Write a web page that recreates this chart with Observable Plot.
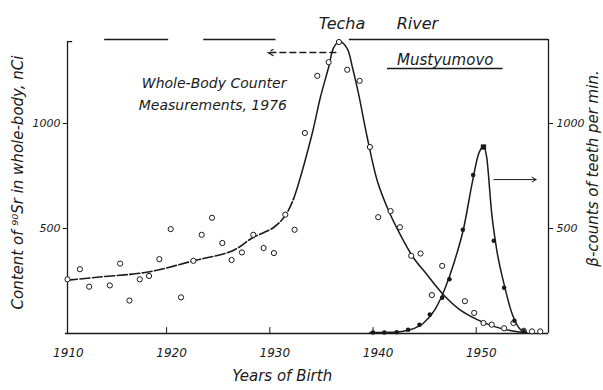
<!DOCTYPE html>
<html><head><meta charset="utf-8">
<script src="https://cdn.jsdelivr.net/npm/d3@7"></script>
<script src="https://cdn.jsdelivr.net/npm/@observablehq/plot@0.6"></script>
<style>body{margin:0;background:#fff}</style>
</head><body><div id="chart"></div>
<script>
// Whole-body counter measurements of 90Sr (open circles), year of birth vs nCi
const srYears = [1910.4,1911.6,1912.5,1914.5,1915.5,1916.4,1917.4,1918.3,1919.3,1920.4,1921.4,1922.6,1923.4,1924.4,1925.4,1926.3,1927.3,1928.4,1929.4,1930.4,1931.5,1932.4,1933.4,1934.6,1935.7,1936.7,1937.5,1938.7,1939.7,1940.5,1941.7,1942.6,1943.7,1944.6,1945.7,1946.7,1948.9,1949.8,1950.7,1951.5,1952.7,1953.6,1954.6,1955.4,1956.2];
const srValues = [258,306,223,229,333,157,258,274,354,497,172,346,470,551,431,350,386,470,407,383,566,494,955,1227,1292,1388,1256,1203,888,554,583,506,370,381,183,322,154,98,50,42,25,50,13,10,10];
// Fitted 90Sr curve
const srCurveYears = [1910.4,1913.5,1918.2,1922.6,1926.4,1928.3,1930.4,1931.55,1932.3,1932.7,1934.1,1934.9,1935.7,1936.2,1936.8,1937.5,1938.0,1938.6,1939.4,1940.4,1941.5,1942.6,1943.9,1945.2,1946.8,1948.4,1950.1,1951.7,1953.3,1954.6];
const srCurveValues = [254,269,293,346,394,455,506,565,641,700,951,1125,1268,1363,1390,1356,1268,1141,943,729,586,474,362,282,186,114,66,34,14,5];
// Beta-counts of teeth per min (solid dots)
const betaYears = [1940.0,1941.1,1942.3,1943.4,1944.5,1945.5,1946.7,1947.4,1948.7,1949.7,1950.7,1951.7,1952.7,1953.7,1954.6];
const betaValues = [5,5,6,18,42,90,170,258,494,755,888,442,218,61,10];
const betaCurveYears = [1939.7,1942.0,1943.6,1944.9,1946.0,1947.0,1947.8,1948.8,1949.6,1950.2,1950.7,1951.0,1951.5,1952.0,1952.7,1953.5,1954.3,1954.9];
const betaCurveValues = [5,6,18,50,114,218,330,506,715,851,891,843,571,394,234,90,18,5];
// Axis ticks
const xTicks = [1910,1920,1930,1940,1950];
const yTicks = [500,1000];
// Broken top frame segments (years)
const topSegStart = [1914.0,1923.6,1937.7];
const topSegEnd = [1920.2,1930.6,1957.0];

const sr = srYears.map((x,i)=>({x, y: srValues[i]}));
const srCurve = srCurveYears.map((x,i)=>({x, y: srCurveValues[i]}));
const srCurveLeft = srCurve.filter(d => d.x <= 1932.3);
const srCurveRight = srCurve.filter(d => d.x >= 1932.3);
const beta = betaYears.map((x,i)=>({x, y: betaValues[i]}));
const betaCurve = betaCurveYears.map((x,i)=>({x, y: betaCurveValues[i]}));
const betaPeak = beta.filter(d => d.y === d3.max(betaValues));
const betaRest = beta.filter(d => d.y !== d3.max(betaValues));
const topSegs = topSegStart.map((x1,i)=>({x1, x2: topSegEnd[i]}));

const ink = "#1a1a1a";
const font = "DejaVu Sans";

const chart = Plot.plot({
  width: 603, height: 390,
  marginLeft: 67, marginRight: 55, marginTop: 39, marginBottom: 57,
  style: {fontFamily: font, fontStyle: "italic", color: ink, background: "#fff"},
  x: {type: "linear", domain: [1910.4, 1957], axis: null},
  y: {type: "linear", domain: [0, 1400], axis: null},
  marks: [
    // frame
    Plot.ruleX([1910.4], {y1: 0, y2: 1390, stroke: ink, strokeWidth: 1.3}),
    Plot.ruleY([1390], {x1: 1910.4, x2: 1910.9, stroke: ink, strokeWidth: 1.3}),
    Plot.ruleX([1957], {y1: 0, y2: 1400, stroke: ink, strokeWidth: 1.3}),
    Plot.ruleY([0], {x1: 1910.2, x2: 1957, stroke: ink, strokeWidth: 1.3}),
    Plot.ruleY(topSegs, {y: 1400, x1: "x1", x2: "x2", stroke: ink, strokeWidth: 1.5}),
    // x ticks (inward) and labels
    Plot.ruleX(xTicks.filter(d => d > 1911), {y1: 0, y2: 28, stroke: ink}),
    Plot.text(xTicks, {x: d => d, y: 0, text: d => String(d), dy: 20, dx: 5, fontSize: 12, fill: ink}),
    Plot.text(["Years of Birth"], {x: 1931.2, y: 0, dy: 43, fontSize: 15, fill: ink, letterSpacing: 2.4}),
    // left axis ticks (outward) and labels
    Plot.ruleY(yTicks, {y: d => d, x1: 1910.4, x2: 1910.0, stroke: ink}),
    Plot.text(yTicks, {x: 1910.4, y: d => d, text: d => String(d), dx: -7, textAnchor: "end", fontSize: 11, fill: ink}),
    // right axis ticks (outward) and labels
    Plot.ruleY(yTicks, {y: d => d, x1: 1957, x2: 1957.5, stroke: ink}),
    Plot.text(yTicks, {x: 1957, y: d => d, text: d => String(d), dx: 8, textAnchor: "start", fontSize: 11, fill: ink}),
    Plot.text(["Content of ⁹⁰Sr in whole-body, nCi"], {frameAnchor: "left", textAnchor: "middle", dx: -49, dy: -4, rotate: -90, fontSize: 15, fill: ink, letterSpacing: 1.5}),
    Plot.text(["β-counts of teeth per min."], {frameAnchor: "right", textAnchor: "middle", dx: 45, dy: -18, rotate: -90, fontSize: 15, fill: ink, letterSpacing: 2.4}),
    // curves
    Plot.line(srCurveLeft, {x: "x", y: "y", curve: "catmull-rom", stroke: ink, strokeWidth: 1.6, strokeDasharray: "10,2.5"}),
    Plot.line(srCurveRight, {x: "x", y: "y", curve: "catmull-rom", stroke: ink, strokeWidth: 1.5}),
    Plot.line(betaCurve, {x: "x", y: "y", curve: "monotone-x", stroke: ink, strokeWidth: 1.5}),
    // points
    Plot.dot(sr, {x: "x", y: "y", r: 2.6, stroke: ink, strokeWidth: 1, fill: "#fff"}),
    Plot.dot(betaRest, {x: "x", y: "y", r: 2.3, fill: ink, stroke: "none"}),
    Plot.dot(betaPeak, {x: "x", y: "y", r: 3, symbol: "square", fill: ink, stroke: "none"}),
    // arrows
    Plot.arrow([{x1: 1936.4, x2: 1929.8, y: 1338}], {x1: "x1", x2: "x2", y1: "y", y2: "y", stroke: ink, strokeWidth: 1.3, strokeDasharray: "6,4", headLength: 7}),
    Plot.arrow([{x1: 1951.7, x2: 1955.8, y: 733}], {x1: "x1", x2: "x2", y1: "y", y2: "y", stroke: ink, strokeWidth: 1, headLength: 7}),
    // annotations
    Plot.text(["Techa"], {x: 1937.0, y: 1400, dy: -16, fontSize: 16, fill: ink, letterSpacing: 1.2}),
    Plot.text(["River"], {x: 1944.3, y: 1400, dy: -16, fontSize: 16, fill: ink, letterSpacing: 1.5}),
    Plot.text(["Mustyumovo"], {x: 1947.0, y: 1300, fontSize: 15, fill: ink, letterSpacing: 2.2}),
    Plot.ruleY([1262], {x1: 1941.4, x2: 1952.6, stroke: ink, strokeWidth: 1.5}),
    Plot.text(["Whole-Body Counter"], {x: 1917.6, y: 1190, textAnchor: "start", fontSize: 14, fill: ink, letterSpacing: 1.1}),
    Plot.text(["Measurements, 1976"], {x: 1917.3, y: 1086, textAnchor: "start", fontSize: 14, fill: ink, letterSpacing: 1.1})
  ]
});
document.getElementById("chart").appendChild(chart);
</script>
</body></html>
